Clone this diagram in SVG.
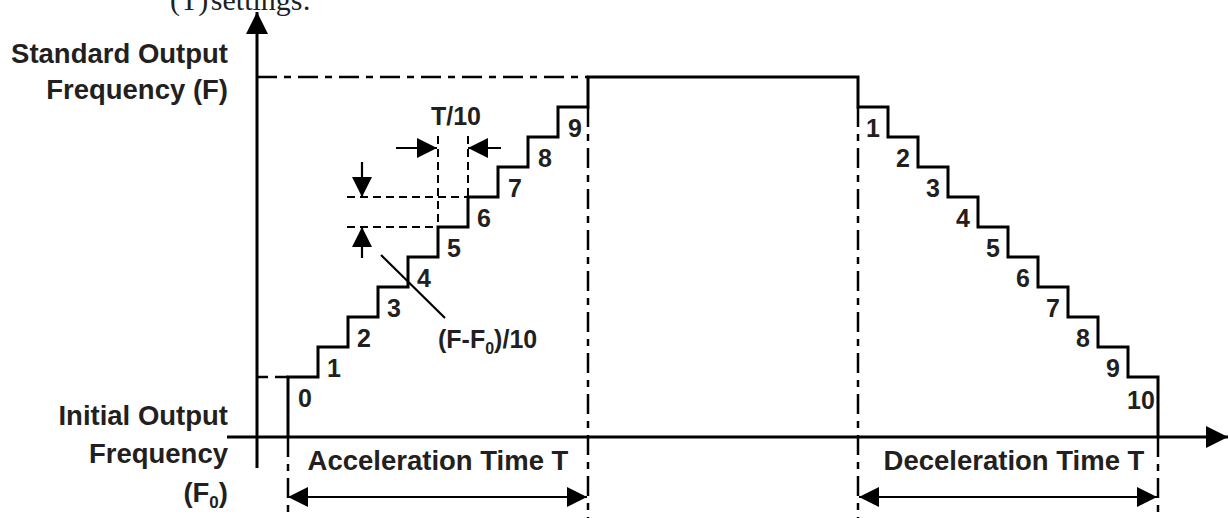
<svg xmlns="http://www.w3.org/2000/svg" width="1229" height="518" viewBox="0 0 1229 518">
<style>
.lbl{font-family:"Liberation Sans",Arial,Helvetica,sans-serif;font-weight:bold;font-size:27.5px;fill:#231f20}
.num{font-family:"Liberation Sans",Arial,Helvetica,sans-serif;font-weight:bold;font-size:25px;fill:#231f20}
.serif{font-family:"Liberation Serif","Times New Roman",serif;font-size:30px;fill:#231f20}
.solid{fill:none;stroke:#000;stroke-width:3}
.dd{fill:none;stroke:#000;stroke-width:2.5;stroke-dasharray:20 7 7 7}
.dash{fill:none;stroke:#000;stroke-width:2;stroke-dasharray:8 5}
.dim{fill:none;stroke:#000;stroke-width:2.2}
</style>
<defs>
<marker id="ah" viewBox="0 0 20 20" refX="20" refY="10" markerWidth="20" markerHeight="20" markerUnits="userSpaceOnUse" orient="auto-start-reverse">
<path d="M0,0 L20,10 L0,20 Z" fill="#000"/>
</marker>
<marker id="axh" viewBox="0 0 22 22" refX="22" refY="11" markerWidth="22" markerHeight="22" markerUnits="userSpaceOnUse" orient="auto">
<path d="M0,0 L22,11 L0,22 Z" fill="#000"/>
</marker>
</defs>

<text class="serif" x="170" y="9.5" word-spacing="-5">(T) settings:</text>

<g id="axes">
<line class="solid" x1="257" y1="468" x2="257" y2="12" marker-end="url(#axh)"/>
<line class="solid" x1="227" y1="437" x2="1228" y2="437" marker-end="url(#axh)"/>
</g>

<g id="guides">
<line class="dd" x1="257" y1="77" x2="588" y2="77"/>
<line class="dd" x1="257" y1="377" x2="288" y2="377" style="stroke-dasharray:11 7 14"/>
<line class="dd" x1="588" y1="107" x2="588" y2="518"/>
<line class="dd" x1="858" y1="107" x2="858" y2="518"/>
<line class="dd" x1="288" y1="437" x2="288" y2="518"/>
<line class="dd" x1="1158" y1="437" x2="1158" y2="518"/>
<line class="dash" x1="438" y1="136" x2="438" y2="227"/>
<line class="dash" x1="468" y1="136" x2="468" y2="197"/>
<line class="dash" x1="347" y1="197" x2="468" y2="197"/>
<line class="dash" x1="347" y1="227" x2="438" y2="227"/>
</g>

<g id="profile">
<path class="solid" d="M288,437 V377 H318 V347 H348 V317 H378 V287 H408 V257 H438 V227 H468 V197 H498 V167 H528 V137 H558 V107 H588 V77 H858 V107 H888 V137 H918 V167 H948 V197 H978 V227 H1008 V257 H1038 V287 H1068 V317 H1098 V347 H1128 V377 H1158 V437"/>
</g>

<g id="connectors">
<line class="dim" x1="396" y1="148" x2="437" y2="148" marker-end="url(#ah)"/>
<line class="dim" x1="501" y1="148" x2="468" y2="148" marker-end="url(#ah)"/>
<line class="dim" x1="362" y1="162" x2="362" y2="197" marker-end="url(#ah)"/>
<line class="dim" x1="362" y1="258" x2="362" y2="227" marker-end="url(#ah)"/>
<line class="dim" x1="381" y1="255" x2="445" y2="318"/>
<line class="dim" x1="288" y1="497" x2="587" y2="497" marker-start="url(#ah)" marker-end="url(#ah)"/>
<line class="dim" x1="859" y1="497" x2="1157" y2="497" marker-start="url(#ah)" marker-end="url(#ah)"/>
</g>

<g id="labels">
<text class="lbl" x="228" y="63" text-anchor="end">Standard Output</text>
<text class="lbl" x="228" y="99" text-anchor="end">Frequency (F)</text>
<text class="lbl" x="228" y="425" text-anchor="end">Initial Output</text>
<text class="lbl" x="228" y="463" text-anchor="end">Frequency</text>
<text class="lbl" x="228" y="502" text-anchor="end">(F<tspan font-size="17" dy="6">0</tspan><tspan dy="-6">)</tspan></text>
<text class="lbl" x="438" y="470" text-anchor="middle">Acceleration Time T</text>
<text class="lbl" x="1014" y="470" text-anchor="middle">Deceleration Time T</text>
<text class="num" x="456" y="125" text-anchor="middle">T/10</text>
<text class="num" x="438" y="348">(F-F<tspan font-size="16" dy="6">0</tspan><tspan dy="-6">)/10</tspan></text>
</g>

<g id="acc-steps" class="num" text-anchor="middle">
<text class="num" x="305" y="407" text-anchor="middle">0</text>
<text class="num" x="334" y="377" text-anchor="middle">1</text>
<text class="num" x="364" y="347" text-anchor="middle">2</text>
<text class="num" x="394" y="317" text-anchor="middle">3</text>
<text class="num" x="424" y="287" text-anchor="middle">4</text>
<text class="num" x="454" y="257" text-anchor="middle">5</text>
<text class="num" x="484" y="227" text-anchor="middle">6</text>
<text class="num" x="515" y="197" text-anchor="middle">7</text>
<text class="num" x="545" y="167" text-anchor="middle">8</text>
<text class="num" x="575" y="137" text-anchor="middle">9</text>
</g>

<g id="dec-steps">
<text class="num" x="873" y="137" text-anchor="middle">1</text>
<text class="num" x="903" y="167" text-anchor="middle">2</text>
<text class="num" x="933" y="197" text-anchor="middle">3</text>
<text class="num" x="963" y="227" text-anchor="middle">4</text>
<text class="num" x="993" y="257" text-anchor="middle">5</text>
<text class="num" x="1023" y="287" text-anchor="middle">6</text>
<text class="num" x="1053" y="317" text-anchor="middle">7</text>
<text class="num" x="1083" y="347" text-anchor="middle">8</text>
<text class="num" x="1113" y="377" text-anchor="middle">9</text>
<text class="num" x="1141" y="409" text-anchor="middle">10</text>
</g>
</svg>
